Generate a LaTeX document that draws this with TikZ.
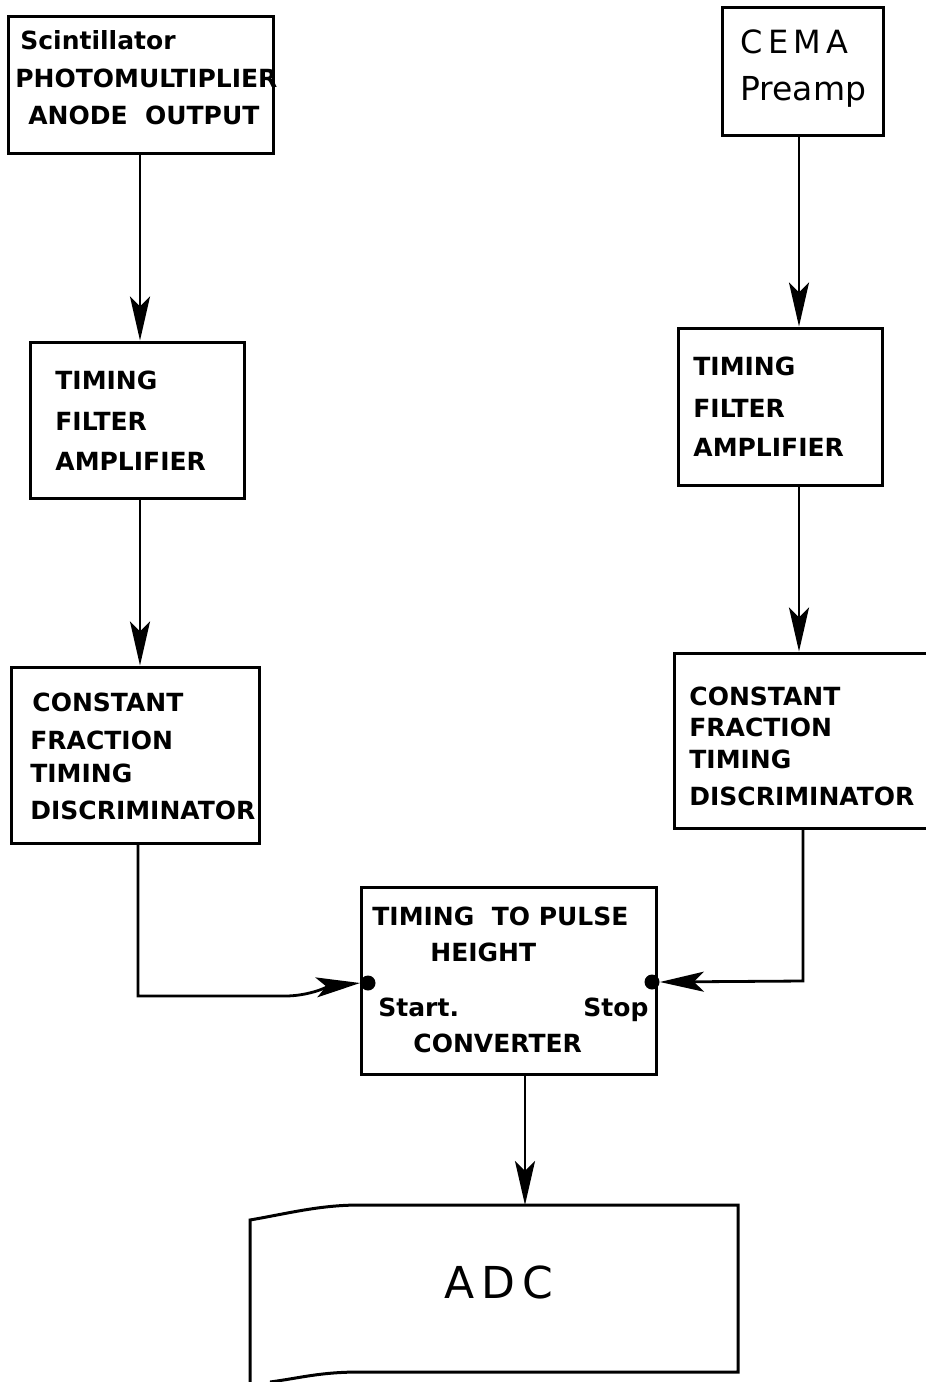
\documentclass[tikz,border=0pt]{standalone}
\usepackage{fontspec}
\setmainfont{DejaVu Sans}
\usetikzlibrary{fit,arrows.meta,calc}
\tikzset{
  box/.style={draw, line width=1.5pt, inner sep=0pt},
  lbl/.style={anchor=base west, inner sep=0pt, font=\bfseries\fontsize{12.5}{14}\selectfont},
  arr/.style={line width=1.4pt, -{Stealth[length=22pt,width=10pt,inset=5pt]}},
  dot/.style={circle, fill, inner sep=0pt, minimum size=7.5pt}
}
\begin{document}
\begin{tikzpicture}[x=0.5pt,y=-0.5pt]
\useasboundingbox (0,0) rectangle (926,1382);
% boxes
\node[box, fit={(8,16) (273,153)}] (scint) {};
\node[box, fit={(722,7) (883,135)}] (cema) {};
\node[box, fit={(30,342) (244,498)}] (tfaL) {};
\node[box, fit={(678,328) (882,485)}] (tfaR) {};
\node[box, fit={(11,667) (259,843)}] (cfdL) {};
\node[box, fit={(674,653) (935,828)}] (cfdR) {};
\node[box, fit={(361,887) (656,1074)}] (tphc) {};
% ADC box with wavy top and bottom
\draw[line width=1.5pt] (250,1382) -- (250,1220) .. controls (290,1213) and (320,1205) .. (360,1205) -- (738,1205) -- (738,1372) -- (360,1372) .. controls (320,1372) and (300,1378) .. (270,1382);
\coordinate (adctop) at (525,1205);
% texts
\node[lbl] (s1) at (20,49) {Scintillator};
\node[lbl] (s2) at (15,87) {PHOTOMULTIPLIER};
\node[lbl] (s3) at (28,124) {ANODE\ \ OUTPUT};
\node[anchor=base west, inner sep=0pt, font=\fontsize{16}{18}\selectfont] (c1) at (740,53) {C\,E\,M\,A};
\node[anchor=base west, inner sep=0pt, font=\fontsize{16.5}{18}\selectfont] (c2) at (740,100) {Preamp};
\node[lbl] (tl1) at (55,389) {TIMING};
\node[lbl] (tl2) at (55,430) {FILTER};
\node[lbl] (tl3) at (55,470) {AMPLIFIER};
\node[lbl] (tr1) at (693,375) {TIMING};
\node[lbl] (tr2) at (693,417) {FILTER};
\node[lbl] (tr3) at (693,456) {AMPLIFIER};
\node[lbl] (cl1) at (32,711) {CONSTANT};
\node[lbl] (cl2) at (30,749) {FRACTION};
\node[lbl] (cl3) at (30,782) {TIMING};
\node[lbl] (cl4) at (30,819) {DISCRIMINATOR};
\node[lbl] (cr1) at (689,705) {CONSTANT};
\node[lbl] (cr2) at (689,736) {FRACTION};
\node[lbl] (cr3) at (689,768) {TIMING};
\node[lbl] (cr4) at (689,805) {DISCRIMINATOR};
\node[lbl] (p1) at (372,925) {TIMING\ \ TO PULSE};
\node[lbl] (p2) at (430,961) {HEIGHT};
\node[lbl] (p3) at (378,1016) {Start.};
\node[lbl] (p4) at (583,1016) {Stop};
\node[lbl] (p5) at (413,1052) {CONVERTER};
\node[anchor=center, inner sep=0pt, font=\fontsize{22}{24}\selectfont] (adct) at (499,1282) {A\,D\,C};
% dots
\node[dot] (start) at (368,983) {};
\node[dot] (stop) at (652,982) {};
% connectors
\draw[arr] (140,153) coordinate (a1) -- (a1 |- tfaL.north);
\draw[arr] (799,135) coordinate (a2) -- (a2 |- tfaR.north);
\draw[arr] (a1 |- tfaL.south) -- (a1 |- cfdL.north);
\draw[arr] (a2 |- tfaR.south) -- (a2 |- cfdR.north);
\draw[arr] (138,843) coordinate (a3) -- (138,996) -- (285,996) .. controls (310,996) and (330,986) .. (start.west);
\draw[arr] (803,828) coordinate (a4) -- (803,981) -- (stop.east);
\draw[arr] (525,1074) coordinate (a5) -- (adctop);
\end{tikzpicture}
\end{document}
